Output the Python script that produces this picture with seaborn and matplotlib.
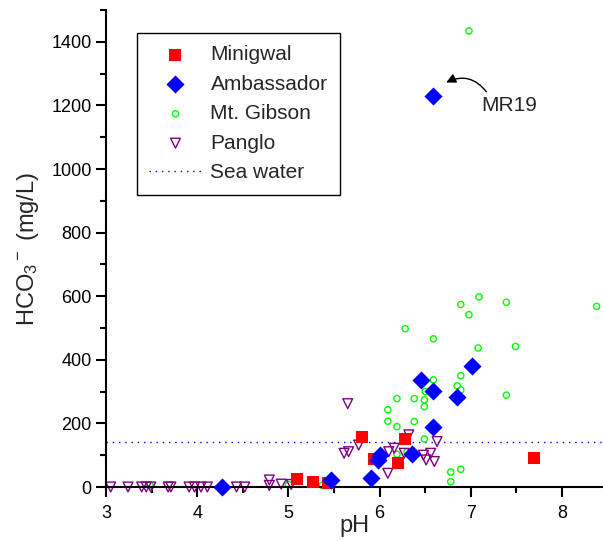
import numpy as np
import pandas as pd
import seaborn as sns
import matplotlib.pyplot as plt
from matplotlib.ticker import MultipleLocator

# pH / HCO3- (mg/L)
minigwal_ph = [5.09, 5.27, 5.43, 5.81, 5.94, 6.20, 6.28, 7.69]
minigwal_hco3 = [25, 15, 14, 157, 87, 74, 150, 90]

ambassador_ph = [4.27, 5.47, 5.91, 5.98, 6.00, 6.36, 6.45, 6.58, 6.58, 6.85, 7.01, 6.58]
ambassador_hco3 = [0, 22, 27, 85, 101, 103, 337, 302, 190, 283, 381, 1231]

gibson_ph = [3.48, 5.00, 5.37, 6.98, 7.09, 6.89, 7.39, 6.98, 8.38, 6.28, 6.59, 7.08,
             7.49, 6.59, 6.89, 6.85, 6.89, 7.39, 6.19, 6.38, 6.49, 6.49, 6.09, 6.09,
             6.19, 6.38, 6.49, 6.78, 6.89, 6.78, 6.19, 6.50, 6.84, 6.30]
gibson_hco3 = [6, 8, 5, 1434, 598, 574, 581, 542, 568, 498, 466, 437,
               442, 337, 350, 318, 305, 289, 278, 278, 274, 253, 243, 207,
               190, 206, 151, 47, 56, 17, 103, 300, 280, 110]

panglo_ph = [3.05, 3.24, 3.39, 3.44, 3.49, 3.68, 3.71, 3.91, 3.97, 4.04, 4.11, 4.43,
             4.52, 4.79, 4.79, 4.92, 5.03, 5.61, 5.65, 5.77, 5.66, 6.09, 6.16, 6.10,
             6.32, 6.27, 6.51, 6.56, 6.60, 6.63, 6.48]
panglo_hco3 = [0, 0, 0, 0, 0, 0, 0, 0, 0, 0, 0, 0,
               0, 22, 5, 9, 8, 106, 262, 132, 111, 43, 122, 111,
               164, 106, 85, 106, 80, 143, 100]

sea_water = 142

sns.set_theme(style='ticks')
plt.rcParams['font.family'] = ['Liberation Sans', 'DejaVu Sans']
plt.rcParams['mathtext.fontset'] = 'custom'
plt.rcParams['mathtext.rm'] = 'Liberation Sans'
plt.rcParams['mathtext.it'] = 'Liberation Sans'
plt.rcParams['mathtext.default'] = 'regular'

fig = plt.figure(figsize=(6.03, 5.41), dpi=100)
ax = fig.add_axes([0.176, 0.0998, 0.824, 0.8817])

sns.scatterplot(x=minigwal_ph, y=minigwal_hco3, ax=ax, marker='s', s=85,
                color='#ff0000', edgecolor='#ff0000', linewidth=0,
                label='Minigwal', clip_on=False, zorder=3)
sns.scatterplot(x=ambassador_ph, y=ambassador_hco3, ax=ax, marker='D', s=85,
                color='#0000ff', edgecolor='#0000ff', linewidth=0,
                label='Ambassador', clip_on=False, zorder=4)
sns.scatterplot(x=gibson_ph, y=gibson_hco3, ax=ax, marker='o', s=20,
                color='#00ff00', facecolor='none', edgecolor='#00ff00', linewidth=1,
                label='Mt. Gibson', clip_on=False, zorder=2)
sns.scatterplot(x=panglo_ph, y=panglo_hco3, ax=ax, marker='v', s=50,
                color='#800080', facecolor='none', edgecolor='#800080', linewidth=1,
                label='Panglo', clip_on=False, zorder=2)
ax.axhline(sea_water, color='#0000ff', linestyle=(0, (1, 3.5)), linewidth=1,
           label='Sea water', zorder=1)

# MR19 label with curved arrow
ax.text(7.42, 1200, 'MR19', fontsize=15, ha='center', va='center')
ax.annotate('', xy=(6.73, 1272), xytext=(7.17, 1243),
            arrowprops=dict(arrowstyle='-|>', color='black', lw=1,
                            connectionstyle='arc3,rad=0.4',
                            shrinkA=0, shrinkB=0, mutation_scale=14))

ax.set_xlim(3, 8.45)
ax.set_ylim(0, 1500)
ax.xaxis.set_major_locator(MultipleLocator(1))
ax.xaxis.set_minor_locator(MultipleLocator(0.5))
ax.yaxis.set_minor_locator(MultipleLocator(100))
ax.set_yticks([0, 200, 400, 600, 800, 1000, 1200, 1400])

sns.despine(ax=ax)
for sp in ['left', 'bottom']:
    ax.spines[sp].set_linewidth(1.5)
    ax.spines[sp].set_color('black')
ax.tick_params(which='major', length=7, width=1.5, labelsize=13, color='black',
               labelcolor='black')
ax.tick_params(which='minor', length=4, width=1.5, color='black')
ax.tick_params(axis='x', pad=6)

ax.set_xlabel('pH', fontsize=17, labelpad=-5)
ax.set_ylabel(r'HCO$_3$$^-$ (mg/L)', fontsize=17, labelpad=7)

leg = ax.legend(loc='upper left', bbox_to_anchor=(0.062, 0.952), borderaxespad=0,
                fontsize=15, frameon=True, fancybox=False, edgecolor='black',
                framealpha=1, handlelength=2.5, handletextpad=0.43,
                labelspacing=0.5, borderpad=0.6)
leg.get_frame().set_linewidth(1)

fig.savefig('out.png', dpi=100)
